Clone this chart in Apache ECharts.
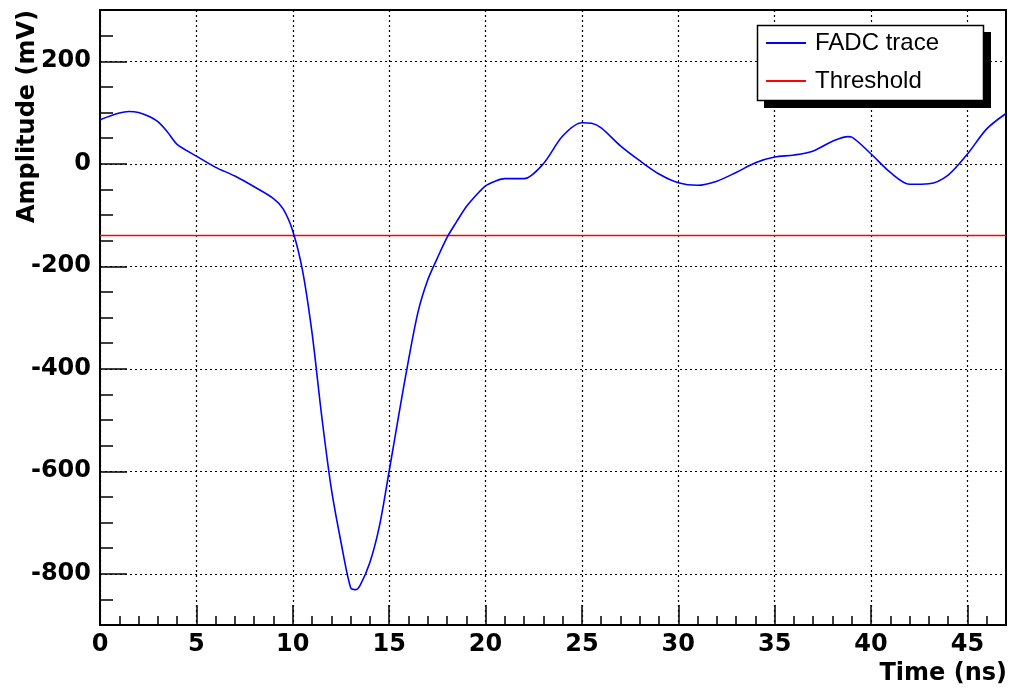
<!DOCTYPE html>
<html>
<head>
<meta charset="utf-8">
<script src="https://cdn.jsdelivr.net/npm/echarts@6/dist/echarts.min.js"></script>
<style>
  html, body { margin: 0; padding: 0; background: #fff; }
  #chart { width: 1015px; height: 692px; }
</style>
</head>
<body>
<div id="chart"></div>
<script>
// FADC trace samples (time in ns, amplitude in mV)
const timeNs = [0, 1, 1.5, 2, 2.5, 3, 3.5, 4, 5, 6, 7, 8, 9, 9.5, 10, 10.5, 11, 11.5, 12, 12.5, 13, 13.25,
  13.5, 14, 14.5, 15, 15.5, 16, 16.5, 17, 17.5, 18, 18.5, 19, 19.5, 20, 20.5, 21, 22, 23, 24, 25,
  25.5, 26, 27, 28, 29, 30, 31, 32, 33, 34, 35, 36, 37, 38, 38.8, 39, 40, 41, 42, 43,
  44, 45, 46, 47];
const amplitudeMv = [86, 99, 102, 100, 93, 82, 62, 38, 15, -7, -24, -45, -68, -88, -131, -207, -330, -492, -634, -738, -827, -831,
  -822, -778, -706, -600, -490, -384, -289, -227, -184, -144, -113, -84, -62, -43, -34, -29, -29, 0, 54, 80,
  79, 70, 35, 6, -20, -37, -42, -34, -17, 2, 13, 17, 25, 44, 53, 52, 19, -17, -40, -39,
  -22, 19, 68, 98];

// Discriminator threshold level
const thresholdTime = [0, 47];
const thresholdMv = [-140, -140];

// Axis tick values
const xMajorTicks = [0, 5, 10, 15, 20, 25, 30, 35, 40, 45];
const yMajorTicks = [-800, -600, -400, -200, 0, 200];

const traceData = timeNs.map((t, i) => [t, amplitudeMv[i]]);
const thresholdData = thresholdTime.map((t, i) => [t, thresholdMv[i]]);

const AXIS_FONT = 'DejaVu Sans';
const dotted = { color: '#000', width: 1.2, type: [2, 3] };

const chart = echarts.init(document.getElementById('chart'), null, { renderer: 'canvas' });

chart.setOption({
  animation: false,
  backgroundColor: '#fff',
  grid: {
    left: 100, right: 9, top: 10, bottom: 67,
    show: true, borderColor: '#000', borderWidth: 2,
    containLabel: false, outerBoundsMode: 'none'
  },
  xAxis: [
    {
      // fine ticks every 1 ns
      type: 'value', min: 0, max: 47, interval: 1,
      axisLine: { show: true, onZero: false, lineStyle: { color: '#000', width: 2 } },
      axisTick: { show: true, inside: true, length: 9, lineStyle: { color: '#000', width: 1.5 } },
      axisLabel: { show: false },
      splitLine: { show: false }
    },
    {
      // labelled ticks every 5 ns
      type: 'value', min: 0, max: 47, interval: 5, position: 'bottom',
      axisLine: { show: false, onZero: false },
      axisTick: { show: true, inside: true, length: 20, customValues: xMajorTicks,
        lineStyle: { color: '#000', width: 1.5 } },
      axisLabel: { show: true, customValues: xMajorTicks, margin: 8,
        fontFamily: AXIS_FONT, fontWeight: 'bold', fontSize: 24, color: '#000' },
      splitLine: { show: true, lineStyle: dotted }
    }
  ],
  yAxis: [
    {
      // fine ticks every 50 mV
      type: 'value', min: -900, max: 300, interval: 50, position: 'left',
      axisLine: { show: true, onZero: false, lineStyle: { color: '#000', width: 2 } },
      axisTick: { show: true, inside: true, length: 13, lineStyle: { color: '#000', width: 1.5 } },
      axisLabel: { show: false },
      splitLine: { show: false }
    },
    {
      // labelled ticks every 200 mV
      type: 'value', min: -900, max: 300, interval: 100, position: 'left', offset: 0,
      axisLine: { show: false, onZero: false },
      axisTick: { show: true, inside: true, length: 27, customValues: yMajorTicks,
        lineStyle: { color: '#000', width: 1.5 } },
      axisLabel: { show: true, customValues: yMajorTicks, margin: 9,
        fontFamily: AXIS_FONT, fontWeight: 'bold', fontSize: 24, color: '#000' },
      splitLine: { show: true, lineStyle: dotted }
    }
  ],
  legend: {
    orient: 'vertical',
    left: 766, top: 31,
    padding: 0,
    itemGap: 14,
    itemWidth: 40, itemHeight: 2,
    icon: 'rect',
    z: 20,
    textStyle: { fontFamily: 'Liberation Sans', fontSize: 24, color: '#000', lineHeight: 24,
      padding: [0, 0, 0, 4] },
    data: ['FADC trace', 'Threshold']
  },
  graphic: [
    // legend frame with drop shadow
    { type: 'rect', z: 15, shape: { x: 764, y: 32, width: 227, height: 76 }, style: { fill: '#000' } },
    { type: 'rect', z: 16, shape: { x: 757.5, y: 25.5, width: 226, height: 75 },
      style: { fill: '#fff', stroke: '#000', lineWidth: 1.5 } },
    // axis titles
    { type: 'text', z: 20, x: 1007, y: 674,
      style: { text: 'Time (ns)', font: 'bold 24px "DejaVu Sans"', fill: '#000',
        align: 'right', verticalAlign: 'middle' } },
    { type: 'text', z: 20, x: 28, y: 10, rotation: Math.PI / 2,
      style: { text: 'Amplitude (mV)', font: 'bold 24px "DejaVu Sans"', fill: '#000',
        align: 'right', verticalAlign: 'middle' } }
  ],
  series: [
    {
      name: 'FADC trace', type: 'line', xAxisIndex: 0, yAxisIndex: 0,
      data: traceData, smooth: 0.3, symbol: 'none', z: 5,
      lineStyle: { color: '#0000ff', width: 1.6 },
      itemStyle: { color: '#0000ff' }
    },
    {
      name: 'Threshold', type: 'line', xAxisIndex: 0, yAxisIndex: 0,
      data: thresholdData, symbol: 'none', z: 4,
      lineStyle: { color: '#ff0000', width: 1.6 },
      itemStyle: { color: '#ff0000' }
    }
  ]
});
</script>
</body>
</html>
